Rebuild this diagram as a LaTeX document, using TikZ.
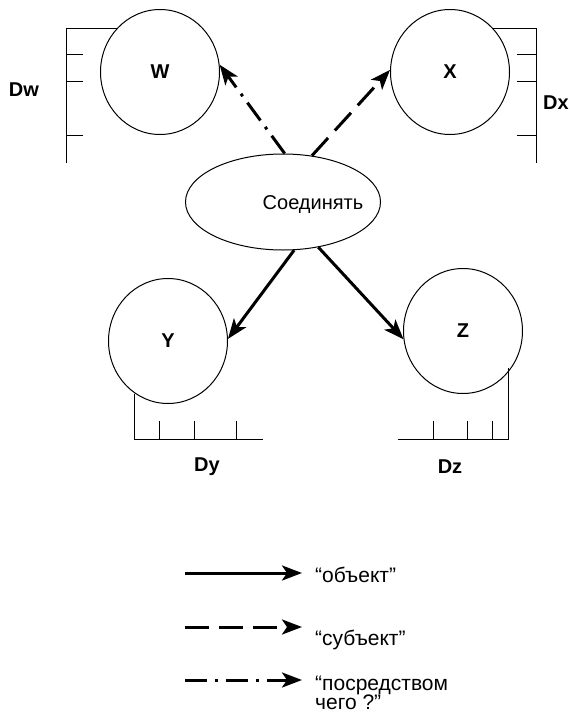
\documentclass[tikz,border=0pt]{standalone}
\usepackage{fontspec}
\setmainfont{Liberation Sans}
\usetikzlibrary{shapes.geometric,arrows.meta}
\begin{document}
\begin{tikzpicture}[x=1pt,y=-1pt,
  circ/.style={draw,ellipse,line width=1pt,minimum width=119pt,minimum height=125pt,inner sep=0pt,font=\fontsize{20}{24}\selectfont\bfseries},
  oval/.style={draw,ellipse,line width=1pt,minimum width=195pt,minimum height=96pt,inner sep=0pt},
  lbl/.style={inner sep=0pt,font=\fontsize{20}{24}\selectfont\bfseries},
  txt/.style={inner sep=0pt,font=\fontsize{20}{24}\selectfont},
  ruler/.style={line width=1pt},
  arr/.style={line width=3pt,-{Stealth[length=20pt,width=15pt,inset=5pt]}},
  dashedarr/.style={arr,dash pattern=on 24pt off 10pt},
  dotarr/.style={arr,dash pattern=on 22pt off 8pt on 3pt off 8pt},
  legtext/.style={anchor=base west,font=\fontsize{21}{25}\selectfont,inner sep=0pt}
]
\useasboundingbox (0,0) rectangle (570,715);

% nodes
\node[circ] (W) at (160,72) {W};
\node[circ] (X) at (450,72) {X};
\node[circ] (Y) at (168,341) {Y};
\node[circ] (Z) at (463,331) {Z};
\node[oval] (E) at (283,202) {};
\node[txt] (Et) at (313,205) {Соединять};

% rulers
\draw[ruler] (118,28) -- (66,28) -- (66,163);
\foreach \t in {54,81,135} \draw[ruler] (66,\t) -- (83,\t);
\node[lbl] (Dw) at (24,90) {Dw};

\draw[ruler] (493,28) -- (536,28) -- (536,163);
\foreach \t in {54,81,135} \draw[ruler] (517,\t) -- (536,\t);
\node[lbl] (Dx) at (556,103) {Dx};

\draw[ruler] (134,394) -- (134,439) -- (263,439);
\foreach \t in {159,194,236} \draw[ruler] (\t,421) -- (\t,439);
\node[lbl] (Dy) at (207,467) {Dy};

\draw[ruler] (508,368) -- (508,439) -- (398,439);
\foreach \t in {433,467,492} \draw[ruler] (\t,421) -- (\t,439);
\node[lbl] (Dz) at (450,467) {Dz};

% connectors
\draw[dotarr] (E.88) -- (W.7);
\draw[dashedarr] (E.58) -- (X.178);
\draw[arr] (E.-77) -- (Y.2);
\draw[arr] (E.-52) -- (Z.188);

% legend
\coordinate (l1a) at (185,573); \coordinate (l1b) at (302,573);
\coordinate (l2a) at (185,627); \coordinate (l2b) at (302,627);
\coordinate (l3a) at (185,680); \coordinate (l3b) at (302,680);
\draw[arr] (l1a) -- (l1b);
\draw[dashedarr] (l2a) -- (l2b);
\draw[dotarr] (l3a) -- (l3b);
\node[legtext] (t1) at (315,582) {“объект”};
\node[legtext] (t2) at (315,645) {“субъект”};
\node[legtext] (t3) at (315,690) {“посредством};
\node[legtext] (t4) at (315,709) {чего ?”};
\end{tikzpicture}
\end{document}
